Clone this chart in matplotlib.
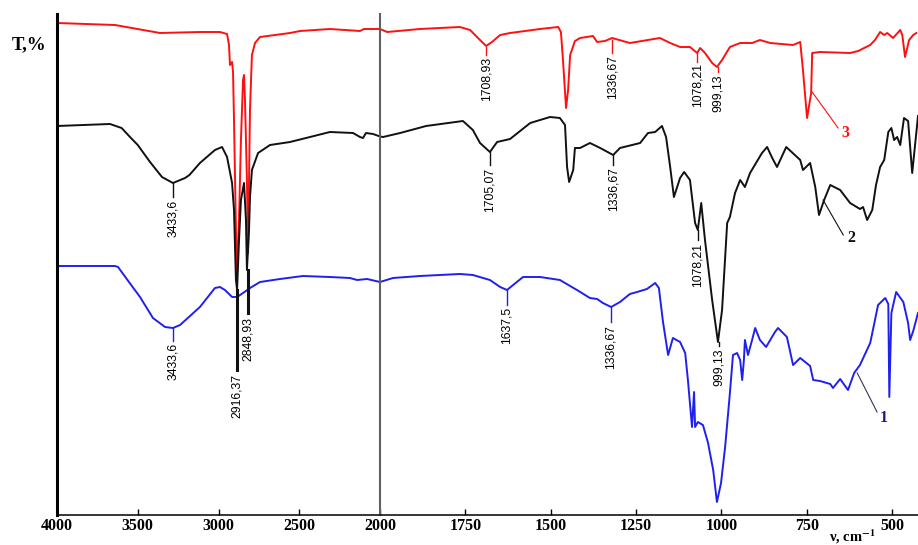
import matplotlib.pyplot as plt
import numpy as np

plt.rcParams['font.family'] = ['Liberation Serif', 'DejaVu Serif']
plt.rcParams['mathtext.fontset'] = 'stix'

# spectrum 3 (red)
red_wn = [4000, 3641, 3362, 3115, 2991, 2947, 2935, 2929, 2916, 2910, 2904, 2892, 2885, 2873, 2861,
          2848, 2842, 2836, 2824, 2817, 2811, 2805, 2793, 2774, 2743, 2650, 2557, 2495, 2310, 2124,
          2099, 2050, 2000, 1979, 1883, 1766, 1736, 1707, 1689, 1672, 1648, 1619, 1531, 1478, 1470,
          1464, 1455, 1449, 1443, 1429, 1414, 1376, 1364, 1341, 1320, 1268, 1180, 1150, 1121, 1092,
          1071, 1062, 1048, 1027, 1013, 998, 975, 945, 910, 887, 857, 790, 769, 761, 749, 737, 734,
          711, 623, 599, 576, 564, 550, 535, 523, 514, 497, 476, 470, 462, 450, 438, 429]
red_t = [99.4, 99.0, 97.4, 97.6, 97.6, 97.2, 95.0, 91.0, 91.6, 89.6, 80.0, 58.0, 49.6, 60.0, 76.0,
         88.0, 89.0, 84.0, 68.0, 53.4, 68.0, 82.0, 93.0, 95.4, 96.6, 97.0, 97.4, 97.8, 98.2, 97.8,
         98.2, 98.2, 98.2, 97.6, 98.2, 98.6, 98.0, 96.0, 94.8, 95.6, 97.0, 97.4, 98.2, 98.6, 97.6,
         92.0, 82.4, 86.0, 93.0, 95.8, 96.4, 96.8, 95.6, 95.8, 96.4, 95.4, 96.4, 95.4, 94.6, 94.6,
         93.4, 94.4, 93.4, 91.4, 90.6, 92.0, 94.6, 95.4, 95.4, 96.0, 95.4, 95.0, 95.6, 90.0, 80.4, 85.4, 93.4,
         93.6, 93.4, 93.8, 94.6, 95.0, 96.0, 97.6, 97.0, 97.4, 96.4, 98.0, 97.0, 92.6, 96.0, 97.0, 97.4]

# spectrum 2 (black)
black_wn = [4000, 3672, 3600, 3548, 3500, 3424, 3350, 3282, 3207, 3180, 3115, 3022, 2978, 2947, 2916,
            2904, 2892, 2885, 2873, 2861, 2842, 2830, 2824, 2811, 2805, 2793, 2755, 2681, 2557, 2310,
            2167, 2124, 2105, 2087, 2043, 1991, 1941, 1865, 1757, 1728, 1707, 1678, 1657, 1619, 1560,
            1502, 1473, 1458, 1452, 1446, 1434, 1429, 1414, 1385, 1355, 1317, 1297, 1238, 1215, 1194,
            1174, 1162, 1150, 1139, 1121, 1109, 1092, 1077, 1069, 1059, 1048, 1027, 1010, 998, 983,
            975, 960, 945, 931, 916, 881, 866, 851, 837, 810, 769, 761, 740, 725, 714, 699, 681, 652,
            623, 594, 585, 573, 558, 547, 535, 523, 511, 502, 494, 485, 476, 465, 453, 441, 429, 424]
black_t = [78.8, 79.2, 78.4, 76.6, 75.0, 71.6, 68.6, 67.4, 68.4, 69.0, 71.4, 74.0, 74.6, 72.6, 67.4,
           62.0, 48.0, 46.0, 56.0, 64.0, 67.4, 60.0, 50.0, 58.0, 64.6, 70.0, 73.4, 75.0, 75.6, 77.6,
           77.4, 76.6, 76.4, 77.4, 77.2, 76.6, 77.4, 78.8, 79.8, 78.0, 75.4, 73.6, 75.6, 76.2, 79.4,
           80.6, 80.4, 79.0, 70.6, 67.6, 70.0, 74.4, 74.4, 75.4, 74.4, 73.0, 74.4, 75.4, 77.4, 77.6,
           78.8, 76.6, 70.6, 64.6, 68.4, 69.6, 68.0, 59.4, 58.0, 63.4, 56.0, 44.0, 35.6, 42.0, 59.4,
           60.6, 65.4, 68.0, 66.6, 69.4, 73.4, 74.6, 72.4, 70.6, 74.6, 72.0, 70.0, 71.4, 66.6, 61.0, 64.0, 67.0, 66.0,
           63.4, 62.2, 62.6, 60.0, 62.0, 67.0, 70.6, 72.0, 77.6, 78.4, 76.0, 76.6, 75.0, 80.4, 79.8, 69.4, 77.4, 80.8]

# spectrum 1 (blue)
blue_wn = [4000, 3641, 3622, 3550, 3486, 3406, 3331, 3282, 3238, 3115, 3022, 2991, 2960, 2916, 2885,
           2848, 2805, 2743, 2619, 2477, 2310, 2186, 2142, 2080, 2000, 1962, 1883, 1766, 1728, 1678,
           1648, 1628, 1610, 1581, 1531, 1473, 1423, 1385, 1364, 1347, 1323, 1297, 1268, 1247, 1218,
           1194, 1183, 1171, 1156, 1142, 1121, 1106, 1098, 1086, 1080, 1077, 1069, 1054, 1039, 1024,
           1013, 1001, 989, 975, 966, 954, 945, 939, 934, 931, 922, 910, 901, 887, 869, 843, 834, 808,
           790, 769, 740, 731, 711, 681, 673, 652, 629, 611, 594, 564, 550, 541, 520, 511, 508, 502,
           488, 467, 453, 447, 438, 424]
blue_t = [50.8, 50.8, 50.6, 47.4, 44.6, 40.4, 38.6, 38.4, 39.0, 42.6, 46.4, 46.6, 46.0, 44.6, 44.6,
          45.4, 46.4, 47.6, 48.2, 48.8, 48.6, 48.4, 48.0, 48.2, 47.6, 48.4, 48.8, 49.2, 49.0, 48.0,
          46.6, 46.0, 47.0, 48.6, 48.6, 48.0, 46.0, 44.4, 44.2, 43.4, 42.6, 43.6, 45.2, 45.6, 46.2,
          47.4, 46.4, 39.6, 33.0, 36.4, 35.6, 33.4, 28.0, 18.6, 25.6, 18.6, 19.6, 19.0, 15.4, 10.0,
          3.6, 7.4, 14.6, 25.4, 33.0, 33.4, 32.0, 28.0, 32.0, 36.0, 33.0, 36.0, 38.4, 36.0, 34.6, 37.6, 38.4, 36.6,
          31.0, 32.4, 30.8, 28.0, 27.8, 27.2, 26.4, 28.2, 26.0, 29.4, 31.0, 35.4, 40.0, 43.0, 44.4, 43.2, 24.6, 41.4,
          45.6, 43.6, 39.4, 36.0, 37.8, 41.4]

# peak labels: text, wavenumber, tick top, tick bottom, text top
red_peaks = [("1708,93", 1689, 94.6, 93.0, 92.6), ("1336,67", 1320, 96.0, 93.4, 93.0),
             ("1078,21", 1071, 93.4, 91.6, 91.4), ("999,13", 1010, 90.6, 89.6, 89.2)]
black_peaks = [("3433,6", 3282, 67.4, 64.6, 64.0), ("2916,37", 2885, 46.0, 30.0, 29.2),
               ("2848,93", 2820, 50.0, 41.4, 40.6), ("1705,07", 1678, 73.6, 71.0, 70.4),
               ("1336,67", 1317, 73.0, 71.0, 70.6), ("1078,21", 1069, 58.0, 56.0, 55.4),
               ("999,13", 1006, 35.6, 34.8, 34.4)]
blue_peaks = [("3433,6", 3282, 38.4, 35.8, 35.4), ("1637,5", 1628, 46.0, 43.0, 42.6),
              ("1336,67", 1323, 42.6, 39.6, 39.0)]

# curve numbers: text, leader start (wn, T), leader end (wn, T), text position (wn, T)
tags = [("3", 734, 85.6, 658, 78.4, 636, 77.4, "#ff1010", "#ff1010"),
        ("2", 702, 64.0, 643, 57.0, 620, 56.4, "#111111", "#111111"),
        ("1", 602, 29.4, 544, 21.6, 524, 20.4, "#1a1a80", "#333355")]

fig = plt.figure(figsize=(9.18, 5.45), dpi=100)
ax_l = fig.add_axes([57 / 918, 30 / 545, 323 / 918, 501 / 545])
ax_r = fig.add_axes([380 / 918, 30 / 545, 538 / 918, 501 / 545])

curves = [(red_wn, red_t, "#ff1010", red_peaks),
          (black_wn, black_t, "#111111", black_peaks),
          (blue_wn, blue_t, "#2020ee", blue_peaks)]

for ax in (ax_l, ax_r):
    for wn, t, col, _ in curves:
        ax.plot(wn, t, color=col, lw=1.4)
    ax.set_ylim(1, 101.2)
    ax.set_yticks([])
    ax.spines['top'].set_visible(False)
    ax.spines['right'].set_visible(False)
    ax.spines['bottom'].set_linewidth(1.1)
    ax.tick_params(axis='x', direction='in', length=4, width=1, pad=2.5)
    ax.patch.set_alpha(0)

ax_l.set_xlim(4000, 2000)
ax_r.set_xlim(2000, 424)
ax_l.spines['left'].set_linewidth(2.2)
ax_r.spines['left'].set_color('#606060')
ax_r.spines['left'].set_linewidth(1.5)
ax_l.set_xticks([4000, 3500, 3000, 2500, 2000])
ax_r.set_xticks([1750, 1500, 1250, 1000, 750, 500])
for ax in (ax_l, ax_r):
    for lab in ax.get_xticklabels():
        lab.set_fontweight('bold')
        lab.set_fontsize(11.5)

narrow = ['Liberation Sans Narrow', 'Liberation Sans', 'DejaVu Sans']
for wn, t, col, peaks in curves:
    for text, x, t1, t2, t3 in peaks:
        ax = ax_l if x > 2000 else ax_r
        lw = 2.2 if text in ("2916,37", "2848,93") else 1.0
        ax.plot([x, x], [t1, t2], color=col, lw=lw)
        ax.text(x, t3, text, rotation=90, ha='center', va='top',
                fontsize=8.8, family=narrow, fontstretch='condensed', color='black')

for text, x1, y1, x2, y2, x3, y3, tcol, lcol in tags:
    ax_r.plot([x1, x2], [y1, y2], color=lcol, lw=0.8)
    ax_r.text(x3, y3, text, ha='center', va='center', fontsize=11.5,
              fontweight='bold', color=tcol)

fig.text(12 / 918, 1 - 45 / 545, "T,%", fontsize=13.5, fontweight='bold',
         ha='left', va='center')
fig.text(829 / 918, 1 - 537 / 545, r"ν, cm$^{\mathbf{-1}}$", fontsize=10.5,
         fontweight='bold', ha='left', va='center')

fig.savefig("out.png", dpi=100)
